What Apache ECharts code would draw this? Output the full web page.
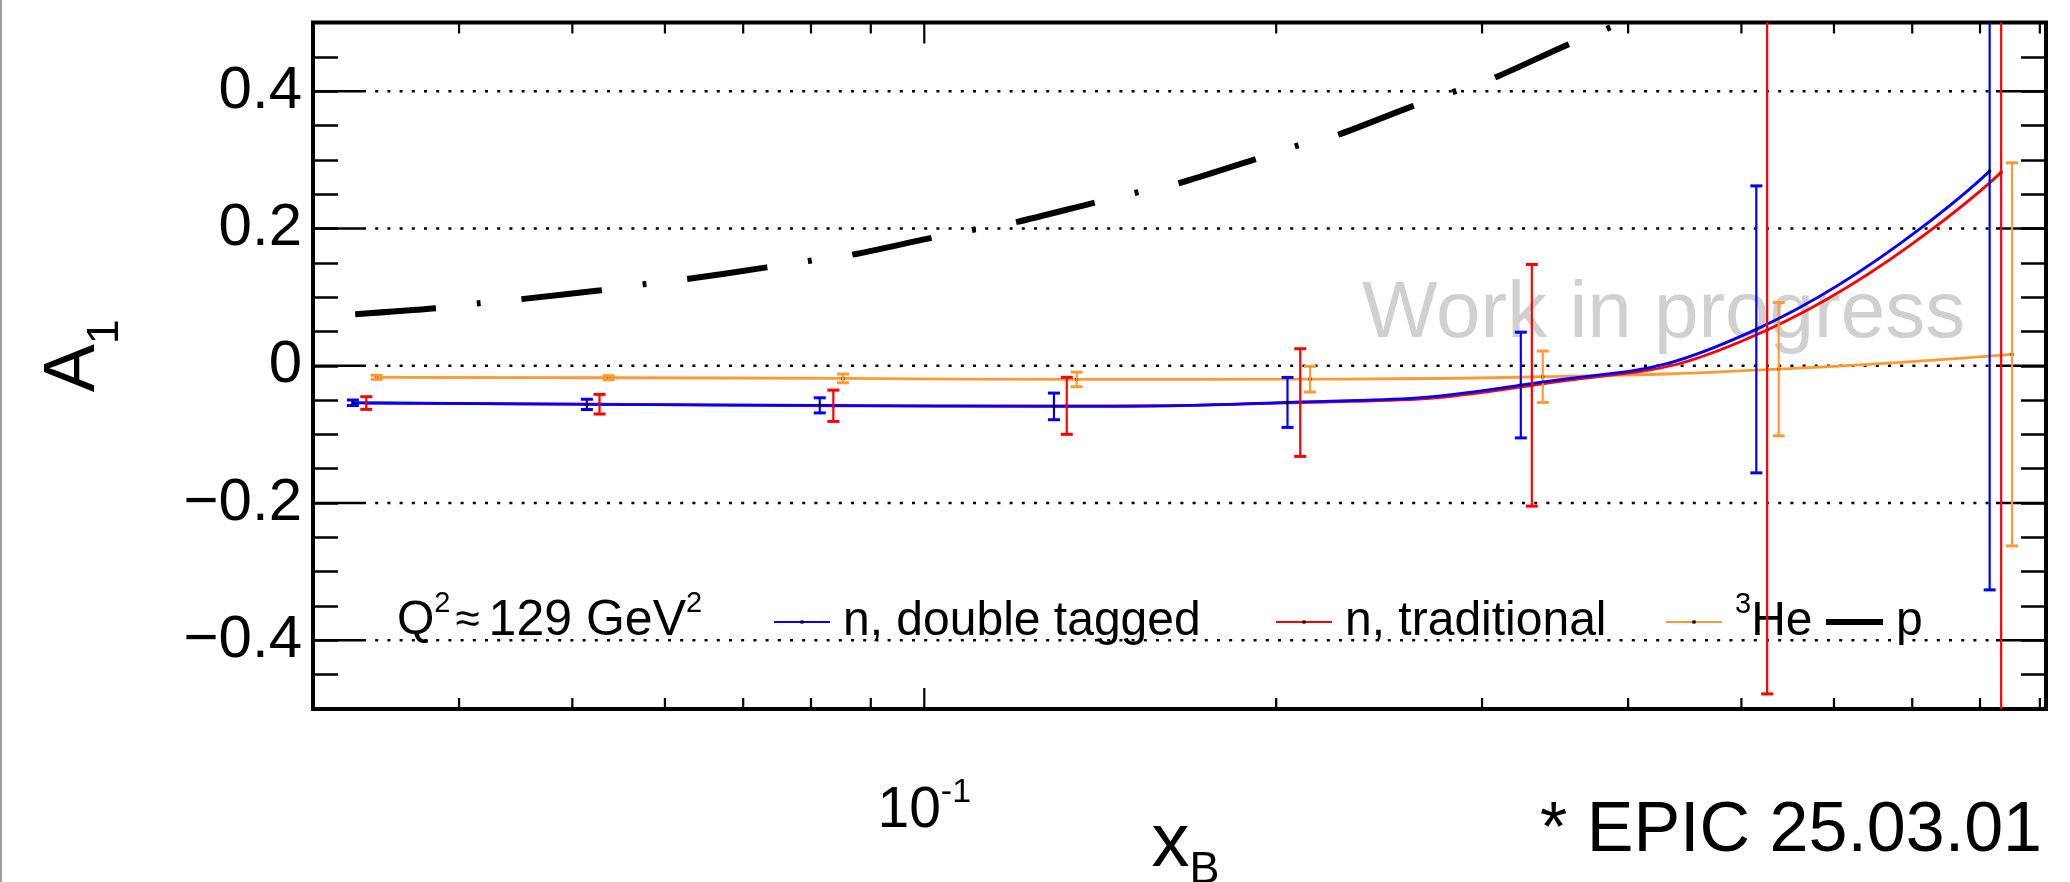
<!DOCTYPE html>
<html><head><meta charset="utf-8">
<script src="https://cdn.jsdelivr.net/npm/echarts@6/dist/echarts.min.js"></script>
<style>html,body{margin:0;padding:0;background:#fff}#c{width:2070px;height:882px}</style>
</head><body><div id="c"></div>
<script>
// ---------------- data ----------------
const seriesNames = ['n, double tagged', 'n, traditional', '3He', 'p'];
const xDouble = [0.03245, 0.05145, 0.0814, 0.1291, 0.2045, 0.3238, 0.5149, 0.8153];
const aDouble = [-0.0539, -0.0563, -0.0577, -0.0592, -0.0534, -0.0281, 0.053, 0.2835];
const eDouble = [0.004, 0.0075, 0.011, 0.0194, 0.0364, 0.077, 0.209, 0.61];
const xTrad = [0.03332, 0.05275, 0.0836, 0.1324, 0.2097, 0.3309, 0.526, 0.834];
const aTrad = [-0.0543, -0.056, -0.0583, -0.0584, -0.0536, -0.0285, 0.052, 0.2817];
const eTrad = [0.0092, 0.0143, 0.0228, 0.0415, 0.0784, 0.176, 0.53, 0.85];
const xHe3 = [0.0340, 0.0537, 0.0852, 0.135, 0.2138, 0.3381, 0.5381, 0.852];
const aHe3 = [-0.0169, -0.0175, -0.0184, -0.0199, -0.0195, -0.016, -0.005, 0.0166];
const eHe3 = [0.003, 0.003, 0.0063, 0.0107, 0.0187, 0.0374, 0.097, 0.279];
const xProton = [0.0326, 0.0382, 0.0416, 0.0452, 0.0529, 0.0575, 0.0625, 0.0733, 0.0794, 0.0864, 0.101, 0.1098,
                 0.1192, 0.1391, 0.1508, 0.1642, 0.1909, 0.2069, 0.2243, 0.26, 0.2812, 0.3056, 0.352, 0.3817, 0.45];
const aProton = [0.075, 0.0836, 0.091, 0.097, 0.110, 0.1186, 0.126, 0.1433, 0.1525, 0.1612, 0.1856, 0.1977,
                 0.2083, 0.2366, 0.2511, 0.2647, 0.2996, 0.319, 0.3346, 0.3764, 0.3968, 0.4176, 0.4647, 0.489, 0.545];

const xRange = [0.03, 0.911];
const yRange = [-0.5, 0.5];
const yLabelTicks = [-0.4, -0.2, 0, 0.2, 0.4];
const yTickLabels = ['\u22120.4', '\u22120.2', '0', '0.2', '0.4'];
const xMajorTicks = [0.1];
const xMinorTicks = [0.04, 0.05, 0.06, 0.07, 0.08, 0.09, 0.2, 0.3, 0.4, 0.5, 0.6, 0.7, 0.8, 0.9];
const xMajorLabel = '{b|10}{s|-1}';

// ---------------- helpers ----------------
const FONT = 'Liberation Sans';
const BLUE = '#0000ff', RED = '#ff0000', ORANGE = '#ff9933';

function pairs(xs, ys) { return xs.map((x, i) => [x, ys[i]]); }

function curve(name, xs, ys, color, z) {
  return {
    type: 'line', name, data: pairs(xs, ys), smooth: true,
    symbol: 'rect', symbolSize: 3, showSymbol: true,
    itemStyle: { color: '#000' },
    lineStyle: { color, width: 2.8 },
    z, animation: false, emphasis: { disabled: true }
  };
}

function errorBars(xs, ys, es, color, z) {
  return {
    type: 'custom', coordinateSystem: 'cartesian2d', z, animation: false, silent: true,
    data: xs.map((x, i) => [x, ys[i], es[i]]),
    encode: { x: 0, y: 1 },
    renderItem(params, api) {
      const x = api.value(0), y = api.value(1), e = api.value(2);
      const top = api.coord([x, y + e]), bot = api.coord([x, y - e]);
      const cs = params.coordSys;
      const yT = Math.max(top[1], cs.y), yB = Math.min(bot[1], cs.y + cs.height);
      const ch = [{ type: 'line', shape: { x1: top[0], y1: yT, x2: top[0], y2: yB },
                    style: { stroke: color, lineWidth: 2.2 } }];
      const capW = 12;
      if (top[1] >= cs.y) ch.push({ type: 'line', shape: { x1: top[0] - capW / 2, y1: top[1], x2: top[0] + capW / 2, y2: top[1] }, style: { stroke: color, lineWidth: 3 } });
      if (bot[1] <= cs.y + cs.height) ch.push({ type: 'line', shape: { x1: bot[0] - capW / 2, y1: bot[1], x2: bot[0] + capW / 2, y2: bot[1] }, style: { stroke: color, lineWidth: 3 } });
      return { type: 'group', children: ch };
    }
  };
}

const chart = echarts.init(document.getElementById('c'), null, { renderer: 'canvas', width: 2070, height: 882 });

const supRich = {
  t: { fontSize: 48, lineHeight: 64, fontFamily: FONT, color: '#000' },
  u: { fontSize: 50, lineHeight: 64, fontFamily: FONT, color: '#000' },
  s: { fontSize: 29, verticalAlign: 'top', fontFamily: FONT, color: '#000' },
  a: { fontSize: 44, lineHeight: 64, fontFamily: FONT, color: '#000', padding: [0, 9, 0, 5] }
};

function legendFor(name, left, top, extra) {
  return Object.assign({
    data: [name], left, top, padding: 0, orient: 'horizontal', selectedMode: false,
    itemWidth: 56, itemHeight: 4,
    formatter: n => (n === '3He' ? '{s|3}{t|He}' : n),
    textStyle: { fontSize: 48, fontFamily: FONT, color: '#000', padding: [0, 0, 0, 8], rich: supRich }
  }, extra || {});
}

const option = {
  backgroundColor: '#fff',
  animation: false,
  textStyle: { fontFamily: FONT },
  grid: { left: 313, right: 24, top: 22.5, bottom: 173, show: true, borderColor: '#000', borderWidth: 4,
          backgroundColor: 'transparent', containLabel: false, outerBoundsMode: 'none' },
  title: [
    { text: 'Q{s|2}{a|\u2248}{u|129 GeV}{s|2}', left: 397, top: 589, padding: 0, z: 1,
      textStyle: { fontSize: 48, lineHeight: 64, fontFamily: FONT, color: '#000', fontWeight: 'normal', rich: supRich } },
    { text: 'Work in progress', left: 1362, top: 275, padding: 0, z: 0,
      textStyle: { fontSize: 80, fontFamily: FONT, color: '#d0d0d0', fontWeight: 'normal' } },
    { text: '* EPIC 25.03.01', right: 28, top: 797, padding: 0,
      textStyle: { fontSize: 70, fontFamily: FONT, color: '#000', fontWeight: 'normal' } }
  ],
  legend: [
    legendFor(seriesNames[0], 773, 598),
    legendFor(seriesNames[1], 1275, 598),
    legendFor(seriesNames[2], 1665, 590),
    legendFor({ name: seriesNames[3], icon: 'rect' }, 1826, 598, { itemWidth: 57, itemHeight: 6 })
  ],
  xAxis: [{
    type: 'log', logBase: 10, min: xRange[0], max: xRange[1],
    axisLine: { show: false }, axisTick: { show: false }, splitLine: { show: false },
    axisLabel: {
      margin: 67, color: '#000',
      formatter: v => (xMajorTicks.some(t => Math.abs(Math.log10(v) - Math.log10(t)) < 1e-6) ? xMajorLabel : ''),
      rich: {
        b: { fontSize: 57, lineHeight: 70, fontFamily: FONT, color: '#000' },
        s: { fontSize: 34, verticalAlign: 'top', fontFamily: FONT, color: '#000' }
      }
    },
    name: '{x|x}{B|B}', nameLocation: 'middle', nameGap: 98, nameMoveOverlap: false,
    nameTextStyle: { padding: [0, 0, 0, 12], rich: {
      x: { fontSize: 76, lineHeight: 86, verticalAlign: 'top', fontFamily: FONT, color: '#000' },
      B: { fontSize: 45, verticalAlign: 'bottom', fontFamily: FONT, color: '#000' }
    } }
  }],
  yAxis: [{
    type: 'value', min: yRange[0], max: yRange[1], interval: 0.05, position: 'left',
    axisLine: { show: false }, splitLine: { show: false },
    axisTick: { show: true, inside: true, length: 25, lineStyle: { color: '#000', width: 2.5 } },
    axisLabel: {
      margin: 11, fontSize: 60, fontFamily: FONT, color: '#000',
      formatter: v => { const i = yLabelTicks.findIndex(t => Math.abs(t - v) < 1e-6); return i >= 0 ? yTickLabels[i] : ''; }
    },
    name: '{A|A}{s|1}', nameLocation: 'middle', nameGap: 185, nameMoveOverlap: false,
    nameTextStyle: { padding: [0, 0, 0, 20], rich: {
      A: { fontSize: 72, lineHeight: 90, verticalAlign: 'top', fontFamily: FONT, color: '#000' },
      s: { fontSize: 45, verticalAlign: 'bottom', fontFamily: FONT, color: '#000' }
    } }
  }, {
    type: 'value', min: yRange[0], max: yRange[1], interval: 0.05, position: 'right',
    axisLine: { show: false }, splitLine: { show: false },
    axisTick: { show: true, inside: true, length: 25, lineStyle: { color: '#000', width: 2.5 } },
    axisLabel: { show: false }
  }],
  graphic: [
    { type: 'rect', shape: { x: 0, y: 0, width: 2, height: 882 }, style: { fill: '#a0a0a0' }, silent: true }
  ],
  series: [
    {
      type: 'custom', coordinateSystem: 'cartesian2d', z: 1, silent: true, animation: false,
      data: yLabelTicks.map(v => [xRange[0], v]), encode: { x: 0, y: 1 },
      renderItem(params, api) {
        const v = api.value(1);
        const a = api.coord([xRange[0], v]), b = api.coord([xRange[1], v]);
        return { type: 'group', children: [
          { type: 'line', shape: { x1: a[0] + 50, y1: a[1], x2: b[0] - 50, y2: b[1] },
            style: { stroke: '#000', lineWidth: 2.5, lineDash: [3, 9.2] } },
          { type: 'line', shape: { x1: a[0], y1: a[1], x2: a[0] + 50, y2: a[1] }, style: { stroke: '#000', lineWidth: 2.5 } },
          { type: 'line', shape: { x1: b[0] - 50, y1: b[1], x2: b[0], y2: b[1] }, style: { stroke: '#000', lineWidth: 2.5 } }
        ] };
      }
    },
    {
      type: 'custom', coordinateSystem: 'cartesian2d', z: 6, silent: true, animation: false,
      data: xMinorTicks.map(v => [v, yRange[0], 0]).concat(xMajorTicks.map(v => [v, yRange[0], 1])),
      encode: { x: 0, y: 1 },
      renderItem(params, api) {
        const v = api.value(0), major = api.value(2) === 1;
        const len = major ? 21 : 11;
        const p = api.coord([v, yRange[0]]), q = api.coord([v, yRange[1]]);
        return { type: 'group', children: [
          { type: 'line', shape: { x1: p[0], y1: p[1], x2: p[0], y2: p[1] - len }, style: { stroke: '#000', lineWidth: 2.2 } },
          { type: 'line', shape: { x1: q[0], y1: q[1], x2: q[0], y2: q[1] + len }, style: { stroke: '#000', lineWidth: 2.2 } }
        ] };
      }
    },
    {
      type: 'line', name: seriesNames[3], data: pairs(xProton, aProton), smooth: 0.3,
      symbol: 'none', itemStyle: { color: '#000' }, z: 2, animation: false,
      lineStyle: { color: '#000', width: 6, type: [81, 41, 4, 41], cap: 'butt' }
    },
    curve(seriesNames[2], xHe3, aHe3, ORANGE, 3),
    curve(seriesNames[1], xTrad, aTrad, RED, 3),
    curve(seriesNames[0], xDouble, aDouble, BLUE, 4),
    errorBars(xHe3, aHe3, eHe3, ORANGE, 4),
    errorBars(xDouble, aDouble, eDouble, BLUE, 4),
    errorBars(xTrad, aTrad, eTrad, RED, 5)
  ]
};
chart.setOption(option);
</script>
</body></html>
